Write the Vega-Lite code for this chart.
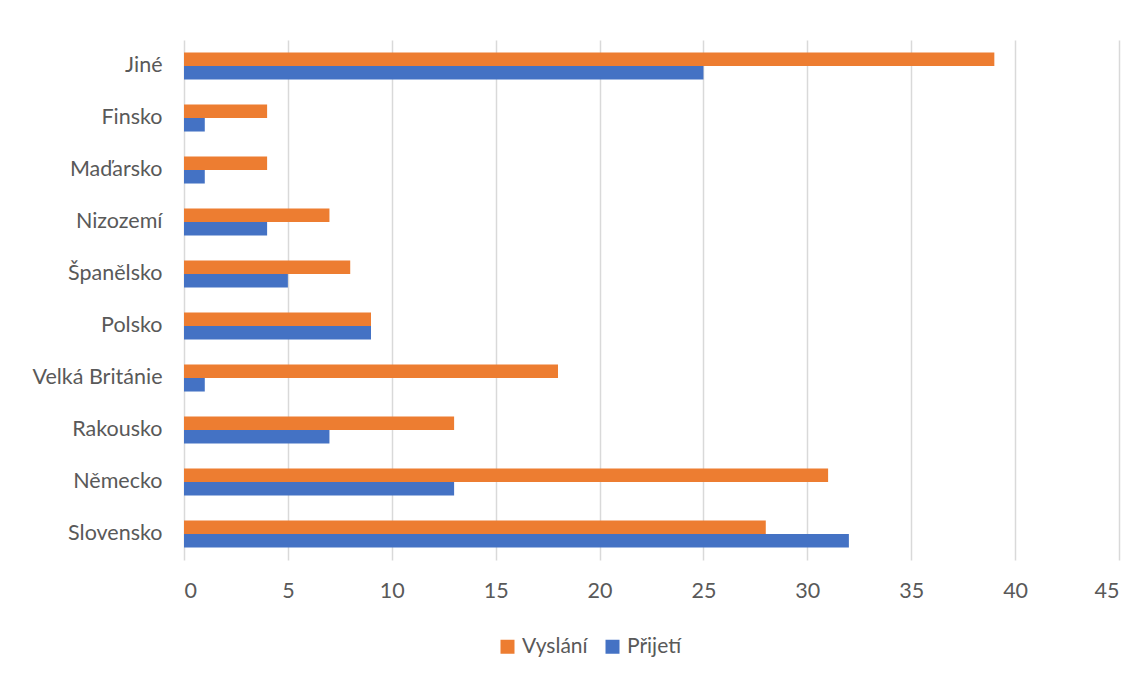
{
  "$schema": "https://vega.github.io/schema/vega-lite/v6.json",
  "autosize": {"type": "none"},
  "padding": {"left": 184, "top": 40, "right": 29, "bottom": 114},
  "width": 935,
  "height": 520,
  "background": "white",
  "config": {
    "view": {"stroke": null},
    "font": "Lato",
    "axis": {"labelFont": "Lato", "labelColor": "#595959", "labelFontSize": 21.5}
  },
  "data": {
    "values": [
      {"zeme": "Jiné", "typ": "Vyslání", "pocet": 39},
      {"zeme": "Jiné", "typ": "Přijetí", "pocet": 25},
      {"zeme": "Finsko", "typ": "Vyslání", "pocet": 4},
      {"zeme": "Finsko", "typ": "Přijetí", "pocet": 1},
      {"zeme": "Maďarsko", "typ": "Vyslání", "pocet": 4},
      {"zeme": "Maďarsko", "typ": "Přijetí", "pocet": 1},
      {"zeme": "Nizozemí", "typ": "Vyslání", "pocet": 7},
      {"zeme": "Nizozemí", "typ": "Přijetí", "pocet": 4},
      {"zeme": "Španělsko", "typ": "Vyslání", "pocet": 8},
      {"zeme": "Španělsko", "typ": "Přijetí", "pocet": 5},
      {"zeme": "Polsko", "typ": "Vyslání", "pocet": 9},
      {"zeme": "Polsko", "typ": "Přijetí", "pocet": 9},
      {"zeme": "Velká Británie", "typ": "Vyslání", "pocet": 18},
      {"zeme": "Velká Británie", "typ": "Přijetí", "pocet": 1},
      {"zeme": "Rakousko", "typ": "Vyslání", "pocet": 13},
      {"zeme": "Rakousko", "typ": "Přijetí", "pocet": 7},
      {"zeme": "Německo", "typ": "Vyslání", "pocet": 31},
      {"zeme": "Německo", "typ": "Přijetí", "pocet": 13},
      {"zeme": "Slovensko", "typ": "Vyslání", "pocet": 28},
      {"zeme": "Slovensko", "typ": "Přijetí", "pocet": 32}
    ]
  },
  "mark": {"type": "bar"},
  "encoding": {
    "y": {
      "field": "zeme",
      "type": "nominal",
      "sort": ["Jiné", "Finsko", "Maďarsko", "Nizozemí", "Španělsko", "Polsko", "Velká Británie", "Rakousko", "Německo", "Slovensko"],
      "scale": {"paddingInner": 0.48, "paddingOuter": 0.24},
      "axis": {"title": null, "domain": false, "ticks": false, "grid": false, "labelPadding": 22}
    },
    "yOffset": {
      "field": "typ",
      "type": "nominal",
      "sort": ["Vyslání", "Přijetí"],
      "scale": {"paddingInner": 0, "paddingOuter": 0}
    },
    "x": {
      "field": "pocet",
      "type": "quantitative",
      "scale": {"domain": [0, 45], "nice": false},
      "axis": {"title": null, "values": [0, 5, 10, 15, 20, 25, 30, 35, 40, 45], "domain": false, "ticks": false, "grid": true, "gridColor": "#d9d9d9", "gridWidth": 1.5, "labelPadding": 20}
    },
    "color": {
      "field": "typ",
      "type": "nominal",
      "sort": ["Vyslání", "Přijetí"],
      "scale": {"domain": ["Vyslání", "Přijetí"], "range": ["#ED7D31", "#4472C4"]},
      "legend": {
        "title": null,
        "orient": "none",
        "direction": "horizontal",
        "legendX": 313,
        "legendY": 596,
        "symbolType": "square",
        "symbolSize": 196,
        "symbolStrokeWidth": 0,
        "labelFontSize": 21,
        "labelColor": "#595959",
        "labelFont": "Lato",
        "columnPadding": 14,
        "labelOffset": 4
      }
    }
  }
}
